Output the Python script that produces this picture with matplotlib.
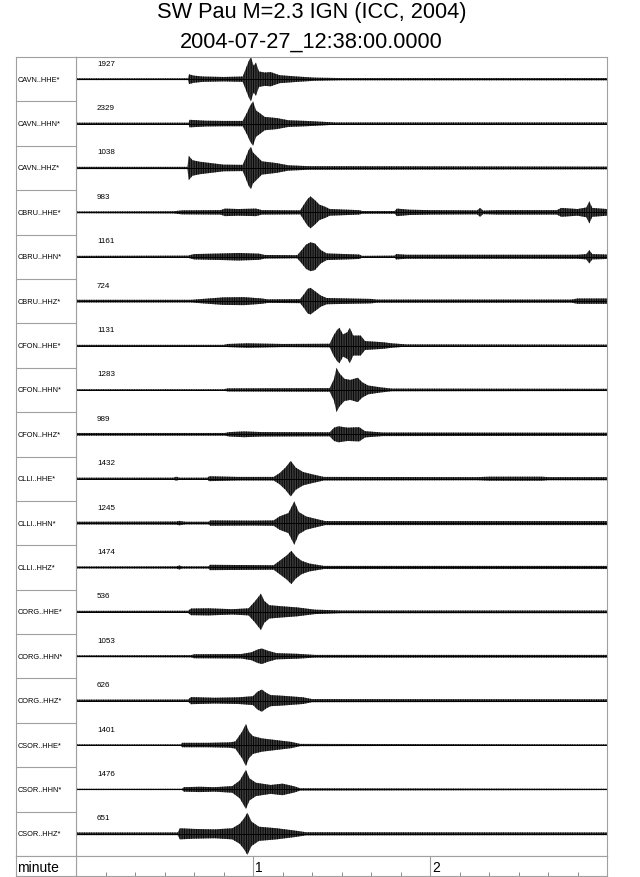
import numpy as np
import matplotlib
matplotlib.use('Agg')
import matplotlib.pyplot as plt

plt.rcParams['font.family'] = ['Liberation Sans', 'DejaVu Sans']
plt.rcParams['hatch.linewidth'] = 0.6

title = 'SW Pau M=2.3 IGN (ICC, 2004)'
subtitle = '2004-07-27_12:38:00.0000'

channels = ['CAVN..HHE*', 'CAVN..HHN*', 'CAVN..HHZ*',
            'CBRU..HHE*', 'CBRU..HHN*', 'CBRU..HHZ*',
            'CFON..HHE*', 'CFON..HHN*', 'CFON..HHZ*',
            'CLLI..HHE*', 'CLLI..HHN*', 'CLLI..HHZ*',
            'CORG..HHE*', 'CORG..HHN*', 'CORG..HHZ*',
            'CSOR..HHE*', 'CSOR..HHN*', 'CSOR..HHZ*']
max_counts = [1927, 2329, 1038, 983, 1161, 724, 1131, 1283, 989,
              1432, 1245, 1474, 536, 1053, 626, 1401, 1476, 651]

# envelope: (seconds, amplitude relative to trace max)
cavn_hhe = [(0, .04), (38, .04), (38.3, .22), (40, .16), (43, .12), (50, .10), (56.5, .12),
            (57.5, .45), (58.5, .8), (59.3, 1.0), (60.2, .6), (61, .75), (62, .35), (64, .3),
            (66, .32), (69, .18), (75, .12), (81, .07), (90, .05), (180, .05)]
cavn_hhn = [(0, .04), (38.2, .04), (38.5, .17), (44, .13), (50, .12), (56.5, .12), (58, .5),
            (59, .8), (60, 1.0), (61, .6), (62, .5), (64, .3), (68, .25), (72, .15), (78, .12),
            (88, .05), (180, .05)]
cavn_hhz = [(0, .05), (37.8, .05), (38.2, .55), (39.5, .35), (42, .28), (47, .2), (50, .15),
            (56.5, .14), (57.5, .45), (58.5, .8), (59.3, .95), (60, .7), (61.5, .5), (63, .3),
            (68, .22), (72, .12), (79, .08), (180, .06)]
cbru_hhe = [(0, .04), (33, .05), (36, .09), (49, .1), (50.5, .17), (55, .15), (61, .17), (63, .1),
            (76, .09), (77.5, .4), (78.5, .6), (79.5, .72), (81, .55), (82.5, .35), (84.5, .25),
            (86, .15), (96, .1), (97, .06), (108, .06), (108.8, .17), (113, .12), (120, .1),
            (136, .09), (137, .2), (138, .08), (143, .1), (163, .1), (164.5, .2), (170, .15),
            (173, .22), (174, .5), (175, .2), (177, .18), (180, .15)]
cbru_hhn = [(0, .04), (38, .05), (40, .12), (50, .15), (55, .17), (62, .14), (64, .08), (75, .07),
            (76.5, .3), (78, .55), (79.5, .65), (81, .6), (83, .3), (85, .15), (96, .1), (97, .04),
            (108, .05), (108.5, .12), (112, .09), (170, .09), (173, .12), (174, .3), (175, .12),
            (180, .1)]
cbru_hhz = [(0, .06), (39, .06), (42, .09), (50, .17), (57, .18), (63, .12), (65, .08), (76, .09),
            (77.5, .35), (78.5, .55), (79.5, .6), (81, .45), (83, .25), (85, .14), (100, .1),
            (102, .07), (168, .07), (170, .12), (180, .12)]
cfon_hhe = [(0, .03), (50, .03), (51.5, .07), (58, .1), (62, .09), (70, .07), (86, .08),
            (87.3, .45), (88.5, .7), (89.3, .8), (90.5, .5), (92, .6), (92.8, .8), (94, .45),
            (96.5, .45), (98, .2), (104, .15), (107, .1), (112, .05), (180, .04)]
cfon_hhn = [(0, .03), (50, .03), (51.5, .07), (86, .08), (87.5, .5), (88.3, 1.0), (89.3, .75),
            (91, .5), (93, .45), (95.5, .55), (97, .35), (99, .2), (103, .12), (107, .06),
            (180, .05)]
cfon_hhz = [(0, .06), (50.5, .06), (52, .1), (57, .13), (63, .1), (86, .09), (87.5, .3),
            (89, .36), (92, .3), (96, .32), (98, .14), (104, .08), (180, .07)]
clli_hhe = [(0, .045), (33, .045), (34, .09), (35, .045), (44.5, .045), (45.2, .11), (55, .08),
            (67, .08), (69, .25), (71, .5), (72.8, .8), (74.5, .5), (77, .3), (80, .2), (84, .08),
            (136, .07), (140, .09), (158, .09), (160, .07), (180, .07)]
clli_hhn = [(0, .06), (34, .07), (35, .1), (37, .06), (45, .06), (45.5, .12), (60, .11), (67, .12),
            (69, .3), (72, .45), (74, .98), (75.5, .5), (78, .3), (81, .2), (84.5, .09), (180, .09)]
clli_hhz = [(0, .045), (34, .05), (35, .09), (36, .05), (45, .05), (45.3, .12), (67, .1), (69, .3),
            (71.5, .55), (73, .75), (74.5, .5), (76.5, .3), (79, .18), (84, .07), (180, .07)]
corg_hhe = [(0, .045), (38, .05), (39, .15), (45, .16), (53, .12), (58.5, .16), (60.5, .45),
            (62, .7), (62.7, .82), (63.8, .5), (65.5, .3), (70, .25), (75, .2), (81, .1), (90, .06),
            (180, .06)]
corg_hhn = [(0, .04), (39, .05), (40, .09), (56, .1), (59.5, .18), (61.5, .3), (63, .35),
            (65, .25), (68, .14), (75, .11), (81, .06), (180, .06)]
corg_hhz = [(0, .045), (38, .05), (39, .16), (47, .13), (55, .15), (60, .2), (61.5, .4), (63, .5),
            (64.5, .35), (66, .25), (70, .22), (77, .15), (80, .07), (180, .06)]
csor_hhe = [(0, .03), (35.5, .03), (36, .1), (45, .1), (52, .12), (54, .16), (56.3, .6),
            (57.6, .95), (58.6, .6), (60, .4), (63, .3), (68, .22), (73, .14), (76, .05), (180, .03)]
csor_hhn = [(0, .03), (36, .03), (36.5, .1), (42, .12), (47, .1), (53, .15), (55.5, .4),
            (57.6, .88), (58.8, .5), (61, .3), (66, .2), (70, .26), (74, .14), (76, .05), (180, .03)]
csor_hhz = [(0, .06), (34.5, .06), (35.2, .25), (40, .22), (47, .2), (53, .25), (55.5, .45),
            (57, .7), (58.1, .95), (59.5, .55), (62, .32), (68, .25), (74, .15), (78, .07), (180, .06)]

envelopes = [cavn_hhe, cavn_hhn, cavn_hhz, cbru_hhe, cbru_hhn, cbru_hhz,
             cfon_hhe, cfon_hhn, cfon_hhz, clli_hhe, clli_hhn, clli_hhz,
             corg_hhe, corg_hhn, corg_hhz, csor_hhe, csor_hhn, csor_hhz]

minute_ticks = [60, 120]
minute_labels = ['1', '2']

W, H = 640, 878
fig = plt.figure(figsize=(W / 100, H / 100), dpi=100)
frame = '#a0a0a0'


def box(x0, y0, x1, y1):
    # pixel box (top-left origin) -> figure axes
    return fig.add_axes([x0 / W, 1 - y1 / H, (x1 - x0) / W, (y1 - y0) / H])


nrows = len(channels)
ax = box(76, 58, 607, 857)
lab = box(16, 58, 76, 857)
bot = box(76, 857, 607, 876.5)
botlab = box(16, 857, 76, 876.5)

for a in [ax, lab, bot, botlab]:
    for s in a.spines.values():
        s.set_color(frame)
        s.set_linewidth(0.8)
    a.set_xticks([])
    a.set_yticks([])

ax.set_xlim(0, 180)
ax.set_ylim(nrows, 0)
lab.set_xlim(0, 1)
lab.set_ylim(nrows, 0)

for i, (env, name, cnt) in enumerate(zip(envelopes, channels, max_counts)):
    t = np.array([p[0] for p in env])
    amp = np.array([p[1] for p in env]) * 0.5
    base = i + 0.5
    ax.fill_between(t, base - amp, base + amp, facecolor='#3a3a3a', edgecolor='#000000',
                    hatch='|||||||', lw=0)
    ax.plot(t, np.full_like(t, base), color='#000000', lw=0.7)
    ax.text(7.1, i + 0.14, str(cnt), fontsize=5.8, va='center', ha='left')
    lab.text(0.02, base, name, fontsize=5.3, va='center', ha='left')
    if i > 0:
        lab.axhline(i, color=frame, lw=0.8)

bot.set_xlim(0, 180)
bot.set_ylim(0, 1)
bot.set_xticks(np.arange(10, 180, 10), minor=True)
bot.tick_params(which='minor', direction='in', length=3, width=0.6, color='#777777')
for tk, tl in zip(minute_ticks, minute_labels):
    bot.axvline(tk, color=frame, lw=0.8)
    bot.text(tk + 0.8, 0.45, tl, fontsize=10, va='center', ha='left')
botlab.text(0.02, 0.45, 'minute', fontsize=10, va='center', ha='left', transform=botlab.transAxes)

fig.text(311.5 / W, 1 - 18.3 / H, title, fontsize=15.7, ha='center', va='baseline')
fig.text(311.5 / W, 1 - 48 / H, subtitle, fontsize=15.7, ha='center', va='baseline')

fig.savefig('out.png', dpi=100)
